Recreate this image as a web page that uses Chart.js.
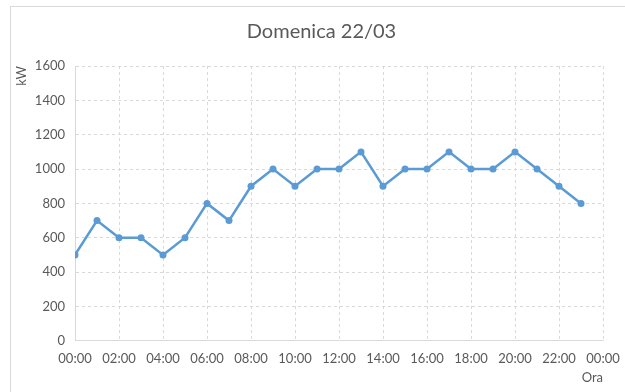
<!DOCTYPE html>
<html>
<head>
<meta charset="utf-8">
<script src="https://cdn.jsdelivr.net/npm/chart.js@4/dist/chart.umd.min.js"></script>
<style>
  html, body { margin: 0; padding: 0; background: #ffffff; }
  #frame { position: absolute; left: 10px; top: 6px; width: 640px; height: 400px; border: 1px solid #d9d9d9; box-sizing: border-box; }
  #wrap { position: absolute; left: 0; top: 0; width: 625px; height: 392px; }
</style>
</head>
<body>
<div id="frame"></div>
<div id="wrap"><canvas id="c" width="625" height="392"></canvas></div>
<script>
// Hourly power readings for the day (hour of day -> kW)
const hours = [0, 1, 2, 3, 4, 5, 6, 7, 8, 9, 10, 11, 12, 13, 14, 15, 16, 17, 18, 19, 20, 21, 22, 23];
const powerKW = [500, 700, 600, 600, 500, 600, 800, 700, 900, 1000, 900, 1000, 1000, 1100, 900, 1000, 1000, 1100, 1000, 1000, 1100, 1000, 900, 800];
const yTicks = [0, 200, 400, 600, 800, 1000, 1200, 1400, 1600];
const xTickHours = [0, 2, 4, 6, 8, 10, 12, 14, 16, 18, 20, 22, 24];

const FONT = 'Lato, "Open Sans", sans-serif';
const TEXT = '#595959';
const GRID = '#d9d9d9';

const points = hours.map((h, i) => ({ x: h, y: powerKW[i] }));

function hourLabel(h) {
  const hh = h % 24;
  return (hh < 10 ? '0' : '') + hh + ':00';
}

// Nudge the title so it sits centred over the whole frame rather than the padded box
const titleShift = {
  id: 'titleShift',
  afterLayout(chart) {
    const t = chart.titleBlock;
    if (t) { t.left += 13; t.right += 13; }
  }
};

new Chart(document.getElementById('c'), {
  type: 'line',
  data: {
    datasets: [{
      data: points,
      borderColor: '#5b9bd5',
      backgroundColor: '#5b9bd5',
      borderWidth: 2.5,
      pointRadius: 3.5,
      pointHoverRadius: 3.5,
      pointBorderWidth: 0,
      tension: 0,
      fill: false
    }]
  },
  options: {
    responsive: false,
    animation: false,
    devicePixelRatio: 1,
    layout: { padding: { left: 14, right: 22, top: 14, bottom: 6 } },
    plugins: {
      legend: { display: false },
      tooltip: { enabled: false },
      title: {
        display: true,
        text: 'Domenica 22/03',
        color: TEXT,
        font: { family: FONT, size: 20, weight: 'normal' },
        padding: { top: 6, bottom: 22 }
      }
    },
    scales: {
      x: {
        type: 'linear',
        min: 0,
        max: 24,
        afterBuildTicks: (axis) => { axis.ticks = xTickHours.map(v => ({ value: v })); },
        afterFit: (axis) => { axis.paddingRight = 0; },
        ticks: {
          color: TEXT,
          font: { family: FONT, size: 13 },
          padding: 10,
          maxRotation: 0,
          autoSkip: false,
          callback: (v) => hourLabel(v)
        },
        grid: { color: GRID, drawTicks: false },
        border: { color: GRID, width: 1, dash: [3, 3] },
        title: {
          display: true,
          text: 'Ora',
          align: 'end',
          color: TEXT,
          font: { family: FONT, size: 13 },
          padding: { top: -6, bottom: 0 }
        }
      },
      y: {
        min: 0,
        max: 1600,
        afterBuildTicks: (axis) => { axis.ticks = yTicks.map(v => ({ value: v })); },
        afterFit: (axis) => { axis.width = 61; },
        ticks: {
          color: TEXT,
          font: { family: FONT, size: 13 },
          padding: 10,
          callback: (v) => String(v)
        },
        grid: { color: GRID, drawTicks: false },
        border: { color: GRID, width: 1, dash: [3, 3] },
        title: {
          display: true,
          text: 'kW',
          align: 'end',
          color: TEXT,
          font: { family: FONT, size: 13 },
          padding: { top: 0, bottom: 0 }
        }
      }
    }
  },
  plugins: [titleShift]
});
</script>
</body>
</html>
